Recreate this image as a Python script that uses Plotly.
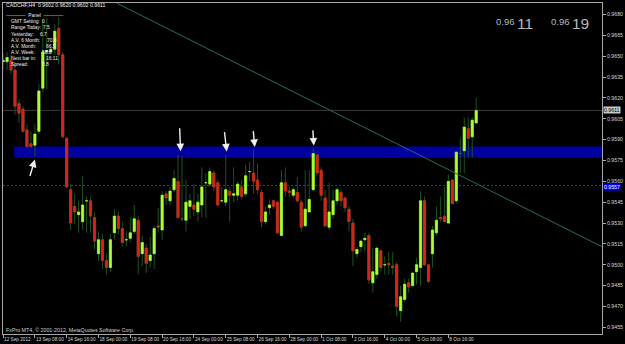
import plotly.graph_objects as go

# ---------------- data ----------------
bars = list(range(120))
opens = [0.9646, 0.9646, 0.9647, 0.9640, 0.9616, 0.9612, 0.9597, 0.9587, 0.9586, 0.9596,
         0.9627, 0.9653, 0.9653, 0.9655, 0.9670, 0.9651, 0.9591, 0.9554, 0.9542, 0.9536,
         0.9531, 0.9546, 0.9546, 0.9534, 0.9508, 0.9518, 0.9503, 0.9498, 0.9523, 0.9535,
         0.9526, 0.9518, 0.9519, 0.9524, 0.9532, 0.9508, 0.9512, 0.9503, 0.9508, 0.9528,
         0.9525, 0.9551, 0.9546, 0.9554, 0.9560, 0.9533, 0.9532, 0.9542, 0.9543, 0.9538,
         0.9543, 0.9559, 0.9558, 0.9566, 0.9559, 0.9546, 0.9545, 0.9553, 0.9550, 0.9550,
         0.9556, 0.9551, 0.9567, 0.9566, 0.9561, 0.9552, 0.9531, 0.9541, 0.9546, 0.9545,
         0.9521, 0.9559, 0.9553, 0.9550, 0.9552, 0.9545, 0.9528, 0.9538, 0.9554, 0.9579,
         0.9568, 0.9548, 0.9527, 0.9536, 0.9546, 0.9552, 0.9548, 0.9540, 0.9530, 0.9508,
         0.9513, 0.9518, 0.9521, 0.9487, 0.9493, 0.9510, 0.9500, 0.9501, 0.9499, 0.9500,
         0.9467, 0.9475, 0.9487, 0.9485, 0.9495, 0.9498, 0.9546, 0.9500, 0.9508, 0.9523,
         0.9534, 0.9535, 0.9530, 0.9561, 0.9546, 0.9580, 0.9582, 0.9598, 0.9592, 0.9602]
highs = [0.9652, 0.9653, 0.9651, 0.9646, 0.9619, 0.9614, 0.9601, 0.9596, 0.9601, 0.9630,
         0.9676, 0.9678, 0.9657, 0.9673, 0.9678, 0.9653, 0.9592, 0.9558, 0.9551, 0.9546,
         0.9564, 0.9549, 0.9549, 0.9538, 0.9524, 0.9522, 0.9508, 0.9522, 0.9540, 0.9538,
         0.9531, 0.9524, 0.9534, 0.9543, 0.9535, 0.9521, 0.9515, 0.9520, 0.9528, 0.9541,
         0.9553, 0.9553, 0.9556, 0.9568, 0.9579, 0.9578, 0.9561, 0.9551, 0.9558, 0.9551,
         0.9570, 0.9566, 0.9570, 0.9568, 0.9561, 0.9556, 0.9579, 0.9556, 0.9570, 0.9560,
         0.9561, 0.9572, 0.9574, 0.9583, 0.9573, 0.9554, 0.9542, 0.9547, 0.9547, 0.9546,
         0.9568, 0.9570, 0.9556, 0.9556, 0.9563, 0.9547, 0.9568, 0.9568, 0.9584, 0.9579,
         0.9570, 0.9554, 0.9559, 0.9554, 0.9556, 0.9554, 0.9549, 0.9542, 0.9533, 0.9513,
         0.9518, 0.9523, 0.9523, 0.9512, 0.9512, 0.9511, 0.9506, 0.9509, 0.9509, 0.9502,
         0.9485, 0.9490, 0.9490, 0.9495, 0.9505, 0.9553, 0.9549, 0.9500, 0.9528, 0.9542,
         0.9549, 0.9556, 0.9565, 0.9561, 0.9581, 0.9591, 0.9606, 0.9606, 0.9606, 0.9620]
lows = [0.9640, 0.9640, 0.9637, 0.9608, 0.9602, 0.9595, 0.9584, 0.9584, 0.9578, 0.9594,
        0.9624, 0.9626, 0.9651, 0.9651, 0.9644, 0.9591, 0.9555, 0.9525, 0.9529, 0.9523,
        0.9525, 0.9523, 0.9523, 0.9511, 0.9503, 0.9497, 0.9493, 0.9495, 0.9518, 0.9522,
        0.9513, 0.9513, 0.9516, 0.9522, 0.9493, 0.9499, 0.9494, 0.9498, 0.9497, 0.9523,
        0.9518, 0.9543, 0.9543, 0.9552, 0.9533, 0.9531, 0.9524, 0.9533, 0.9535, 0.9531,
        0.9534, 0.9534, 0.9556, 0.9553, 0.9543, 0.9545, 0.9542, 0.9531, 0.9545, 0.9546,
        0.9547, 0.9549, 0.9560, 0.9551, 0.9551, 0.9527, 0.9529, 0.9536, 0.9540, 0.9522,
        0.9521, 0.9549, 0.9549, 0.9548, 0.9545, 0.9524, 0.9527, 0.9538, 0.9553, 0.9564,
        0.9546, 0.9527, 0.9525, 0.9533, 0.9543, 0.9542, 0.9538, 0.9524, 0.9499, 0.9505,
        0.9509, 0.9510, 0.9486, 0.9480, 0.9490, 0.9495, 0.9493, 0.9493, 0.9493, 0.9463,
        0.9459, 0.9473, 0.9480, 0.9484, 0.9486, 0.9485, 0.9499, 0.9487, 0.9498, 0.9521,
        0.9531, 0.9531, 0.9529, 0.9543, 0.9544, 0.9566, 0.9566, 0.9577, 0.9577, 0.9602]
closes = [0.9647, 0.9649, 0.9640, 0.9614, 0.9609, 0.9596, 0.9585, 0.9585, 0.9594, 0.9625,
          0.9653, 0.9654, 0.9655, 0.9668, 0.9651, 0.9592, 0.9556, 0.9530, 0.9538, 0.9538,
          0.9543, 0.9546, 0.9535, 0.9517, 0.9518, 0.9503, 0.9498, 0.9518, 0.9535, 0.9526,
          0.9516, 0.9518, 0.9523, 0.9533, 0.9506, 0.9516, 0.9501, 0.9507, 0.9526, 0.9527,
          0.9550, 0.9548, 0.9553, 0.9562, 0.9534, 0.9533, 0.9545, 0.9546, 0.9540, 0.9545,
          0.9556, 0.9559, 0.9567, 0.9556, 0.9543, 0.9546, 0.9554, 0.9550, 0.9551, 0.9558,
          0.9549, 0.9564, 0.9567, 0.9560, 0.9554, 0.9531, 0.9538, 0.9543, 0.9542, 0.9523,
          0.9559, 0.9553, 0.9552, 0.9554, 0.9546, 0.9527, 0.9540, 0.9547, 0.9580, 0.9566,
          0.9550, 0.9528, 0.9538, 0.9546, 0.9554, 0.9546, 0.9541, 0.9531, 0.9510, 0.9511,
          0.9517, 0.9519, 0.9489, 0.9495, 0.9512, 0.9498, 0.9500, 0.9500, 0.9498, 0.9470,
          0.9477, 0.9486, 0.9484, 0.9494, 0.9500, 0.9546, 0.9500, 0.9488, 0.9525, 0.9532,
          0.9533, 0.9531, 0.9560, 0.9544, 0.9581, 0.9580, 0.9599, 0.9591, 0.9604, 0.9611]

time_tick_bars = [0, 8, 16, 24, 32, 40, 48, 56, 64, 72, 80, 88, 96, 104, 112]
time_tick_text = ["12 Sep 2012", "13 Sep 08:00", "14 Sep 16:00", "18 Sep 00:00", "19 Sep 08:00",
                  "20 Sep 16:00", "24 Sep 00:00", "25 Sep 08:00", "26 Sep 16:00", "28 Sep 00:00",
                  "1 Oct 08:00", "2 Oct 16:00", "4 Oct 00:00", "5 Oct 08:00", "8 Oct 16:00"]
price_ticks = [0.9455, 0.9470, 0.9485, 0.9500, 0.9515, 0.9530, 0.9545, 0.9560,
               0.9575, 0.9590, 0.9605, 0.9620, 0.9635, 0.9650, 0.9665, 0.9680]

zone_start_bar = 2.8
zone_low, zone_high = 0.9577, 0.9585
level_price = 0.9557
bid_price = 0.9611
bid_text, ask_text = ("0.96", "11"), ("0.96", "19")
trend_bars = [28.7, 150.6]
trend_prices = [0.9688, 0.9513]

arrow_tail_bars = [6.65, 44.4, 55.65, 62.9, 77.9]
arrow_tail_prices = [0.95628, 0.95993, 0.95965, 0.95972, 0.95977]
arrow_tip_bars = [8.0, 44.65, 56.25, 63.3, 78.15]
arrow_tip_prices = [0.95757, 0.95816, 0.95814, 0.95846, 0.95857]

header = "CADCHF,H4  0.9602 0.9620 0.9602 0.9611"
panel_labels = ["GMT Setting:", "Range Today:", "Yesterday:", "A.V. 6 Month:",
                "A.V. Month:", "A.V. Week:", "Next bar in:", "Spread:"]
panel_values = ["0", "7.5", "6.7", "70.8", "66.5", "58.8", "16:11", "0.8"]
panel_value_px = [39, 40, 37, 44, 43, 39, 43, 39]
copyright_text = "FxPro MT4, \u00a9 2001-2012, MetaQuotes Software Corp."

# ---------------- style ----------------
W, H = 625, 344
ML, MR, MT, MB = 2, 19, 3, 9
PW, PH = W - ML - MR, H - MT - MB
X_RANGE = [-0.02, 150.64]
Y_RANGE = [0.94502, 0.968825]
FONT = "Liberation Sans"
TXT = "#d8d8d8"
AX = "#a8a8a8"
UP = "#adff2f"
DOWN = "#d8241a"
WICK = "#1c5222"


def px(x):
    return (x - ML) / PW


def py(y):
    return 1 - (y - MT) / PH


body_top = [max(o, c) for o, c in zip(opens, closes)]
body_bot = [min(o, c) for o, c in zip(opens, closes)]

fig = go.Figure()
# wicks (full range)
fig.add_trace(go.Candlestick(
    x=bars, open=opens, high=highs, low=lows, close=closes,
    increasing=dict(line=dict(color=WICK, width=1), fillcolor=UP),
    decreasing=dict(line=dict(color=WICK, width=1), fillcolor=DOWN),
    whiskerwidth=0, hoverinfo="skip", showlegend=False))
# bright bodies on top
fig.add_trace(go.Candlestick(
    x=bars, open=opens, high=body_top, low=body_bot, close=closes,
    increasing=dict(line=dict(color=UP, width=0.6), fillcolor=UP),
    decreasing=dict(line=dict(color=DOWN, width=0.6), fillcolor=DOWN),
    whiskerwidth=0, hoverinfo="skip", showlegend=False))
fig.add_trace(go.Scatter(x=trend_bars, y=trend_prices, mode="lines",
                         line=dict(color="#2b6b5b", width=1), hoverinfo="skip",
                         showlegend=False))

shapes = [
    dict(type="rect", xref="x", yref="y", x0=zone_start_bar, x1=X_RANGE[1],
         y0=zone_low, y1=zone_high, fillcolor="#0000a0", line=dict(width=0), layer="below"),
    dict(type="line", xref="paper", yref="y", x0=0, x1=1, y0=bid_price, y1=bid_price,
         line=dict(color="#3a3a3a", width=1), layer="below"),
    dict(type="line", xref="paper", yref="y", x0=0, x1=1, y0=level_price, y1=level_price,
         line=dict(color="#2a2aff", width=1, dash="2px,2px"), layer="below"),
]

ann = []
for tb, tp, hb, hp in zip(arrow_tail_bars, arrow_tail_prices, arrow_tip_bars, arrow_tip_prices):
    ann.append(dict(x=hb, y=hp, xref="x", yref="y", ax=tb, ay=tp, axref="x", ayref="y",
                    text="", showarrow=True, arrowhead=2, arrowsize=1.1, arrowwidth=1.4,
                    arrowcolor="#f0f0f0", standoff=0))

small = dict(family=FONT, size=4.9, color="#f0f0f0")
ann.append(dict(x=px(3), y=py(5.5), xref="paper", yref="paper", text=header,
                showarrow=False, xanchor="left", yanchor="middle",
                font=dict(family=FONT, size=5.2, color="#f0f0f0")))
ann.append(dict(x=px(3), y=py(16), xref="paper", yref="paper",
                text="------------  Panel  ------------", showarrow=False,
                xanchor="left", yanchor="middle", font=small))
for i, (lab, val, vx) in enumerate(zip(panel_labels, panel_values, panel_value_px)):
    yy = py(22 + 6.05 * i)
    ann.append(dict(x=px(8), y=yy, xref="paper", yref="paper", text=lab, showarrow=False,
                    xanchor="left", yanchor="middle", font=small))
    ann.append(dict(x=px(vx), y=yy, xref="paper", yref="paper", text=val, showarrow=False,
                    xanchor="left", yanchor="middle", font=small))
ann.append(dict(x=px(3), y=py(330.5), xref="paper", yref="paper", text=copyright_text,
                showarrow=False, xanchor="left", yanchor="middle",
                font=dict(family=FONT, size=5.3, color="#d0d0d0")))

# bid / ask big digits
for (sm, big), x0 in [(bid_text, 497), (ask_text, 553)]:
    ann.append(dict(x=px(x0), y=py(22), xref="paper", yref="paper", text=sm, showarrow=False,
                    xanchor="left", yanchor="middle",
                    font=dict(family=FONT, size=9.5, color="#b8b8b8")))
    ann.append(dict(x=px(x0 + 21), y=py(23.5), xref="paper", yref="paper", text=big,
                    showarrow=False, xanchor="left", yanchor="middle",
                    font=dict(family=FONT, size=15.5, color="#b8b8b8")))

# right price labels
ann.append(dict(x=1.0, y=bid_price, xref="paper", yref="y", text=f"{bid_price:.4f}",
                showarrow=False, xanchor="left", yanchor="middle", bgcolor="#c8c8c8",
                borderpad=0, font=dict(family=FONT, size=5.2, color="#000000"),
                xshift=1))
ann.append(dict(x=1.0, y=level_price, xref="paper", yref="y", text=f"{level_price:.4f}",
                showarrow=False, xanchor="left", yanchor="middle", bgcolor="#0000ff",
                borderpad=0, font=dict(family=FONT, size=5.2, color="#ffffff"),
                xshift=1, yshift=-1))

fig.update_layout(
    width=W, height=H, autosize=False,
    margin=dict(l=ML, r=MR, t=MT, b=MB, pad=0),
    paper_bgcolor="#000000", plot_bgcolor="#000000",
    boxgap=0.2, boxmode="overlay", showlegend=False,
    shapes=shapes, annotations=ann,
    xaxis=dict(range=X_RANGE, tickmode="array", tickvals=time_tick_bars,
               ticktext=time_tick_text, ticklabelposition="outside right",
               tickangle=0,
               ticks="outside", ticklen=3, tickcolor=AX, showline=True, linecolor=AX,
               linewidth=1, mirror=True, showgrid=False, zeroline=False,
               rangeslider=dict(visible=False), fixedrange=True,
               tickfont=dict(family=FONT, size=4.7, color=TXT)),
    yaxis=dict(side="right", range=Y_RANGE, tickmode="array", tickvals=price_ticks,
               tickformat=".4f", ticks="outside", ticklen=3, tickcolor=AX,
               showline=True, linecolor=AX, linewidth=1, mirror=True,
               showgrid=False, zeroline=False, fixedrange=True,
               tickfont=dict(family=FONT, size=5.2, color=TXT)),
)

fig.write_html("out.html")
